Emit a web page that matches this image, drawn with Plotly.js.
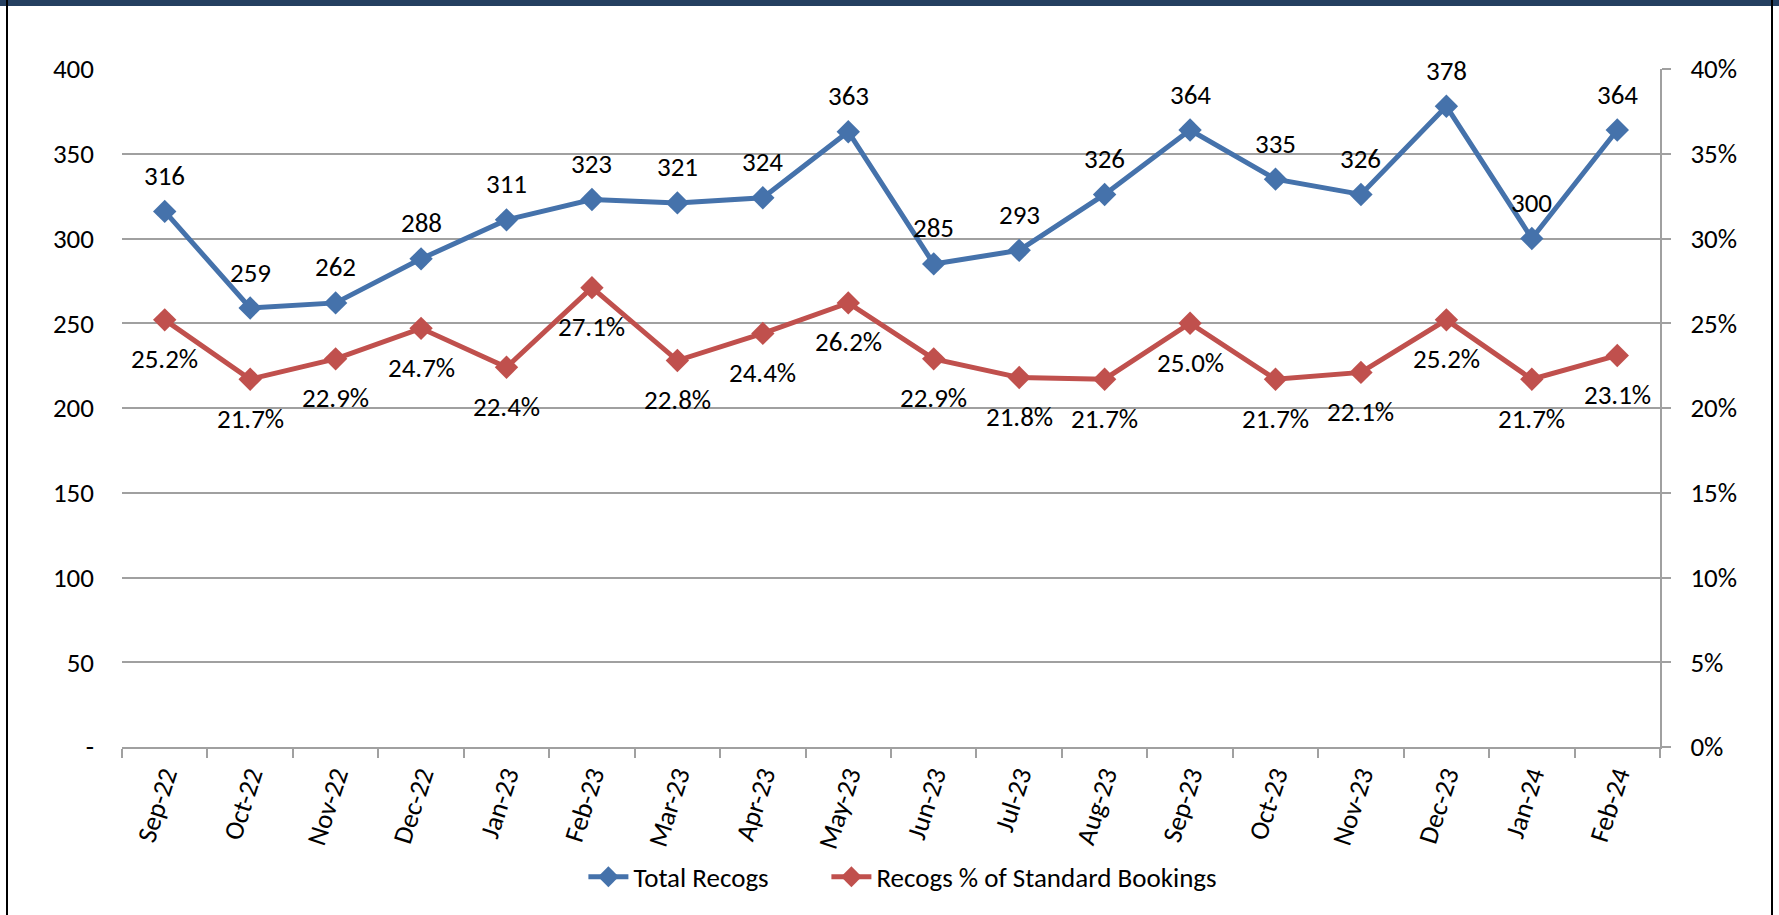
<!DOCTYPE html>
<html>
<head>
<meta charset="utf-8">
<script src="https://cdn.plot.ly/plotly-3.0.1.min.js"></script>
<style>
  html, body { margin: 0; padding: 0; background: #fff; }
  #wrap { position: relative; width: 1779px; height: 915px; overflow: hidden; }
  #chart { position: absolute; left: 0; top: 0; width: 1779px; height: 915px; }
  .topbar { position: absolute; left: 0; top: 0; width: 1779px; height: 6px; background: #243F60; }
  .lb { position: absolute; left: 6px; top: 0; width: 2px; height: 915px; background: #000; }
  .rb { position: absolute; left: 1771px; top: 0; width: 2px; height: 915px; background: #000; }
</style>
</head>
<body>
<div id="wrap">
  <div id="chart"></div>
  <div class="topbar"></div>
  <div class="lb"></div>
  <div class="rb"></div>
</div>
<script>
const months = ["Sep-22","Oct-22","Nov-22","Dec-22","Jan-23","Feb-23","Mar-23","Apr-23","May-23","Jun-23","Jul-23","Aug-23","Sep-23","Oct-23","Nov-23","Dec-23","Jan-24","Feb-24"];
const totalRecogs = [316,259,262,288,311,323,321,324,363,285,293,326,364,335,326,378,300,364];
const recogsPct = [25.2,21.7,22.9,24.7,22.4,27.1,22.8,24.4,26.2,22.9,21.8,21.7,25.0,21.7,22.1,25.2,21.7,23.1];
const leftTickVals = [0,50,100,150,200,250,300,350,400];
const leftTickText = ["-","50","100","150","200","250","300","350","400"];
const rightTickVals = [0,5,10,15,20,25,30,35,40];
const rightTickText = ["0%","5%","10%","15%","20%","25%","30%","35%","40%"];

const FONT = "Carlito, Calibri, Lato, sans-serif";
const FS = 27;
const BLUE = "#4572AB";
const RED = "#C0504D";
const GRID = "#A0A0A0";

const traces = [
  {
    x: months, y: totalRecogs, name: "Total Recogs", type: "scatter", mode: "lines+markers",
    line: { color: BLUE, width: 5 },
    marker: { symbol: "diamond", size: 18, color: BLUE },
    yaxis: "y", legend: "legend"
  },
  {
    x: months, y: recogsPct, name: "Recogs % of Standard Bookings", type: "scatter", mode: "lines+markers",
    line: { color: RED, width: 5 },
    marker: { symbol: "diamond", size: 18, color: RED },
    yaxis: "y2", legend: "legend2"
  }
];

const annotations = [];
months.forEach((m, i) => {
  annotations.push({
    x: m, y: totalRecogs[i], xref: "x", yref: "y", text: String(totalRecogs[i]),
    showarrow: false, yshift: 36, font: { family: FONT, size: FS, color: "#000" }
  });
  annotations.push({
    x: m, y: recogsPct[i], xref: "x", yref: "y2", text: recogsPct[i].toFixed(1) + "%",
    showarrow: false, yshift: -39, font: { family: FONT, size: FS, color: "#000" }
  });
});

const legendBase = {
  orientation: "h", xanchor: "left", y: -0.192, yanchor: "middle",
  bgcolor: "rgba(0,0,0,0)",
  font: { family: FONT, size: FS, color: "#000" }, itemwidth: 40
};

const layout = {
  width: 1779, height: 915,
  margin: { l: 122, r: 119, t: 69, b: 168 },
  paper_bgcolor: "rgba(0,0,0,0)", plot_bgcolor: "#fff",
  font: { family: FONT, size: FS, color: "#000" },
  showlegend: true,
  legend: Object.assign({}, legendBase, { x: 0.300 }),
  legend2: Object.assign({}, legendBase, { x: 0.458 }),
  xaxis: {
    type: "category", range: [-0.5, 17.5], tickangle: -72, showgrid: false,
    showline: true, linecolor: GRID, linewidth: 2,
    ticks: "outside", tickson: "boundaries", ticklen: 9, tickcolor: GRID, tickwidth: 2,
    tickfont: { family: FONT, size: FS, color: "#000" }, fixedrange: true
  },
  yaxis: {
    range: [0, 400], tickvals: leftTickVals, ticktext: leftTickText,
    showgrid: true, gridcolor: GRID, gridwidth: 2, zeroline: false, showline: false,
    ticks: "", ticklabelstandoff: 27,
    tickfont: { family: FONT, size: FS, color: "#000" }
  },
  yaxis2: {
    range: [0, 40], tickvals: rightTickVals, ticktext: rightTickText,
    overlaying: "y", side: "right", showgrid: false, zeroline: false,
    showline: true, linecolor: GRID, linewidth: 2,
    ticks: "outside", ticklen: 9, tickcolor: GRID, tickwidth: 2,
    ticklabelstandoff: 14,
    tickfont: { family: FONT, size: FS, color: "#000" }
  },
  annotations: annotations
};

Plotly.newPlot("chart", traces, layout, { displayModeBar: false, staticPlot: true });
</script>
</body>
</html>
